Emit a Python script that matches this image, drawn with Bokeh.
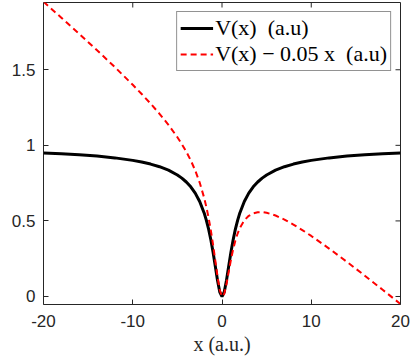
from bokeh.plotting import figure
from bokeh.models import LinearAxis, Legend, LegendItem, Range1d, FixedTicker
from bokeh.embed import file_html
from bokeh.resources import INLINE

x_vals = [-20, -18, -16, -14, -12, -10, -9, -8, -7, -6, -5, -4.5, -4, -3.5, -3, -2.5, -2,
          -1.75, -1.5, -1.25, -1, -0.75, -0.5, -0.25, 0, 0.25, 0.5, 0.75, 1, 1.25, 1.5, 1.75,
          2, 2.5, 3, 3.5, 4, 4.5, 5, 6, 7, 8, 9, 10, 12, 14, 16, 18, 20]
v_vals = [0.9501, 0.9445, 0.9376, 0.9288, 0.9170, 0.9005, 0.8896, 0.8760, 0.8586, 0.8356,
          0.8039, 0.7831, 0.7575, 0.7253, 0.6838, 0.6286, 0.5528, 0.5039, 0.4453, 0.3753,
          0.2929, 0.2000, 0.1056, 0.0299, 0.0, 0.0299, 0.1056, 0.2000, 0.2929, 0.3753,
          0.4453, 0.5039, 0.5528, 0.6286, 0.6838, 0.7253, 0.7575, 0.7831, 0.8039, 0.8356,
          0.8586, 0.8760, 0.8896, 0.9005, 0.9170, 0.9288, 0.9376, 0.9445, 0.9501]
vf_vals = [1.9501, 1.8445, 1.7376, 1.6288, 1.5170, 1.4005, 1.3396, 1.2760, 1.2086, 1.1356,
           1.0539, 1.0081, 0.9575, 0.9003, 0.8338, 0.7536, 0.6528, 0.5914, 0.5203, 0.4378,
           0.3429, 0.2375, 0.1306, 0.0424, 0.0, 0.0174, 0.0806, 0.1625, 0.2429, 0.3128,
           0.3703, 0.4164, 0.4528, 0.5036, 0.5338, 0.5503, 0.5575, 0.5581, 0.5539, 0.5356,
           0.5086, 0.4760, 0.4396, 0.4005, 0.3170, 0.2288, 0.1376, 0.0445, -0.0499]
x_ticks = [-20, -10, 0, 10, 20]
x_tick_labels = {-20: "-20", -10: "-10", 0: "0", 10: "10", 20: "20"}
y_ticks = [0, 0.5, 1, 1.5]
y_tick_labels = {0: "0", 0.5: "0.5", 1: "1", 1.5: "1.5"}
legend_labels = ["V(x)  (a.u)", "V(x) \u2212 0.05 x  (a.u)"]
x_label = "x (a.u.)"

AX = "#262626"
X0, X1 = -20, 20
Y0, Y1 = -0.053, 1.945
W, H = 415, 363
BL, BR, BT, BB = 43, 15, 2, 59
FW, FH = W - BL - BR, H - BT - BB
TICK = 5

p = figure(width=W, height=H, output_backend="svg", toolbar_location=None,
           x_range=Range1d(X0, X1), y_range=Range1d(Y0, Y1),
           min_border_left=BL, min_border_right=BR, min_border_top=BT, min_border_bottom=BB,
           x_axis_location=None, y_axis_location=None)
p.grid.visible = False
p.outline_line_color = AX
p.outline_line_width = 1
p.background_fill_color = "white"
p.border_fill_color = "white"

def style_axis(ax):
    ax.major_tick_in = TICK
    ax.major_tick_out = 0
    ax.minor_tick_line_color = None
    ax.axis_line_color = None
    ax.major_tick_line_color = AX
    ax.major_label_text_color = AX
    ax.major_label_text_font = "Liberation Sans"
    ax.major_label_text_font_size = "17px"

bx = LinearAxis(ticker=FixedTicker(ticks=x_ticks))
style_axis(bx)
bx.major_label_standoff = 10
bx.major_label_overrides = x_tick_labels
bx.axis_label = x_label
bx.axis_label_text_font = "Liberation Serif"
bx.axis_label_text_font_style = "normal"
bx.axis_label_text_font_size = "20px"
bx.axis_label_text_color = AX
bx.axis_label_standoff = 3
p.add_layout(bx, "below")

ly = LinearAxis(ticker=FixedTicker(ticks=y_ticks))
style_axis(ly)
ly.major_label_standoff = 8
ly.major_label_overrides = y_tick_labels
p.add_layout(ly, "left")

# inward ticks on the top and right edges of the box
dy = TICK * (Y1 - Y0) / FH
dx = TICK * (X1 - X0) / FW
p.segment(x0=x_ticks, y0=[Y1] * len(x_ticks), x1=x_ticks, y1=[Y1 - dy] * len(x_ticks),
          line_color=AX, line_width=1)
p.segment(x0=[X1] * len(y_ticks), y0=y_ticks, x1=[X1 - dx] * len(y_ticks), y1=y_ticks,
          line_color=AX, line_width=1)

r1 = p.line(x_vals, v_vals, line_color="black", line_width=3)
r2 = p.line(x_vals, vf_vals, line_color="#ff0000", line_width=2, line_dash="6 4")

legend = Legend(items=[LegendItem(label=legend_labels[0], renderers=[r1]),
                       LegendItem(label=legend_labels[1], renderers=[r2])],
                location="top_right")
legend.margin = 9
legend.padding = 3
legend.spacing = 0
legend.glyph_width = 33
legend.glyph_height = 24
legend.label_standoff = 2
legend.label_height = 24
legend.label_text_font = "Liberation Serif"
legend.label_text_font_size = "22px"
legend.label_text_color = "black"
legend.border_line_color = AX
legend.border_line_width = 1
legend.background_fill_alpha = 1
p.add_layout(legend)

open("out.html", "w").write(file_html(p, INLINE))
